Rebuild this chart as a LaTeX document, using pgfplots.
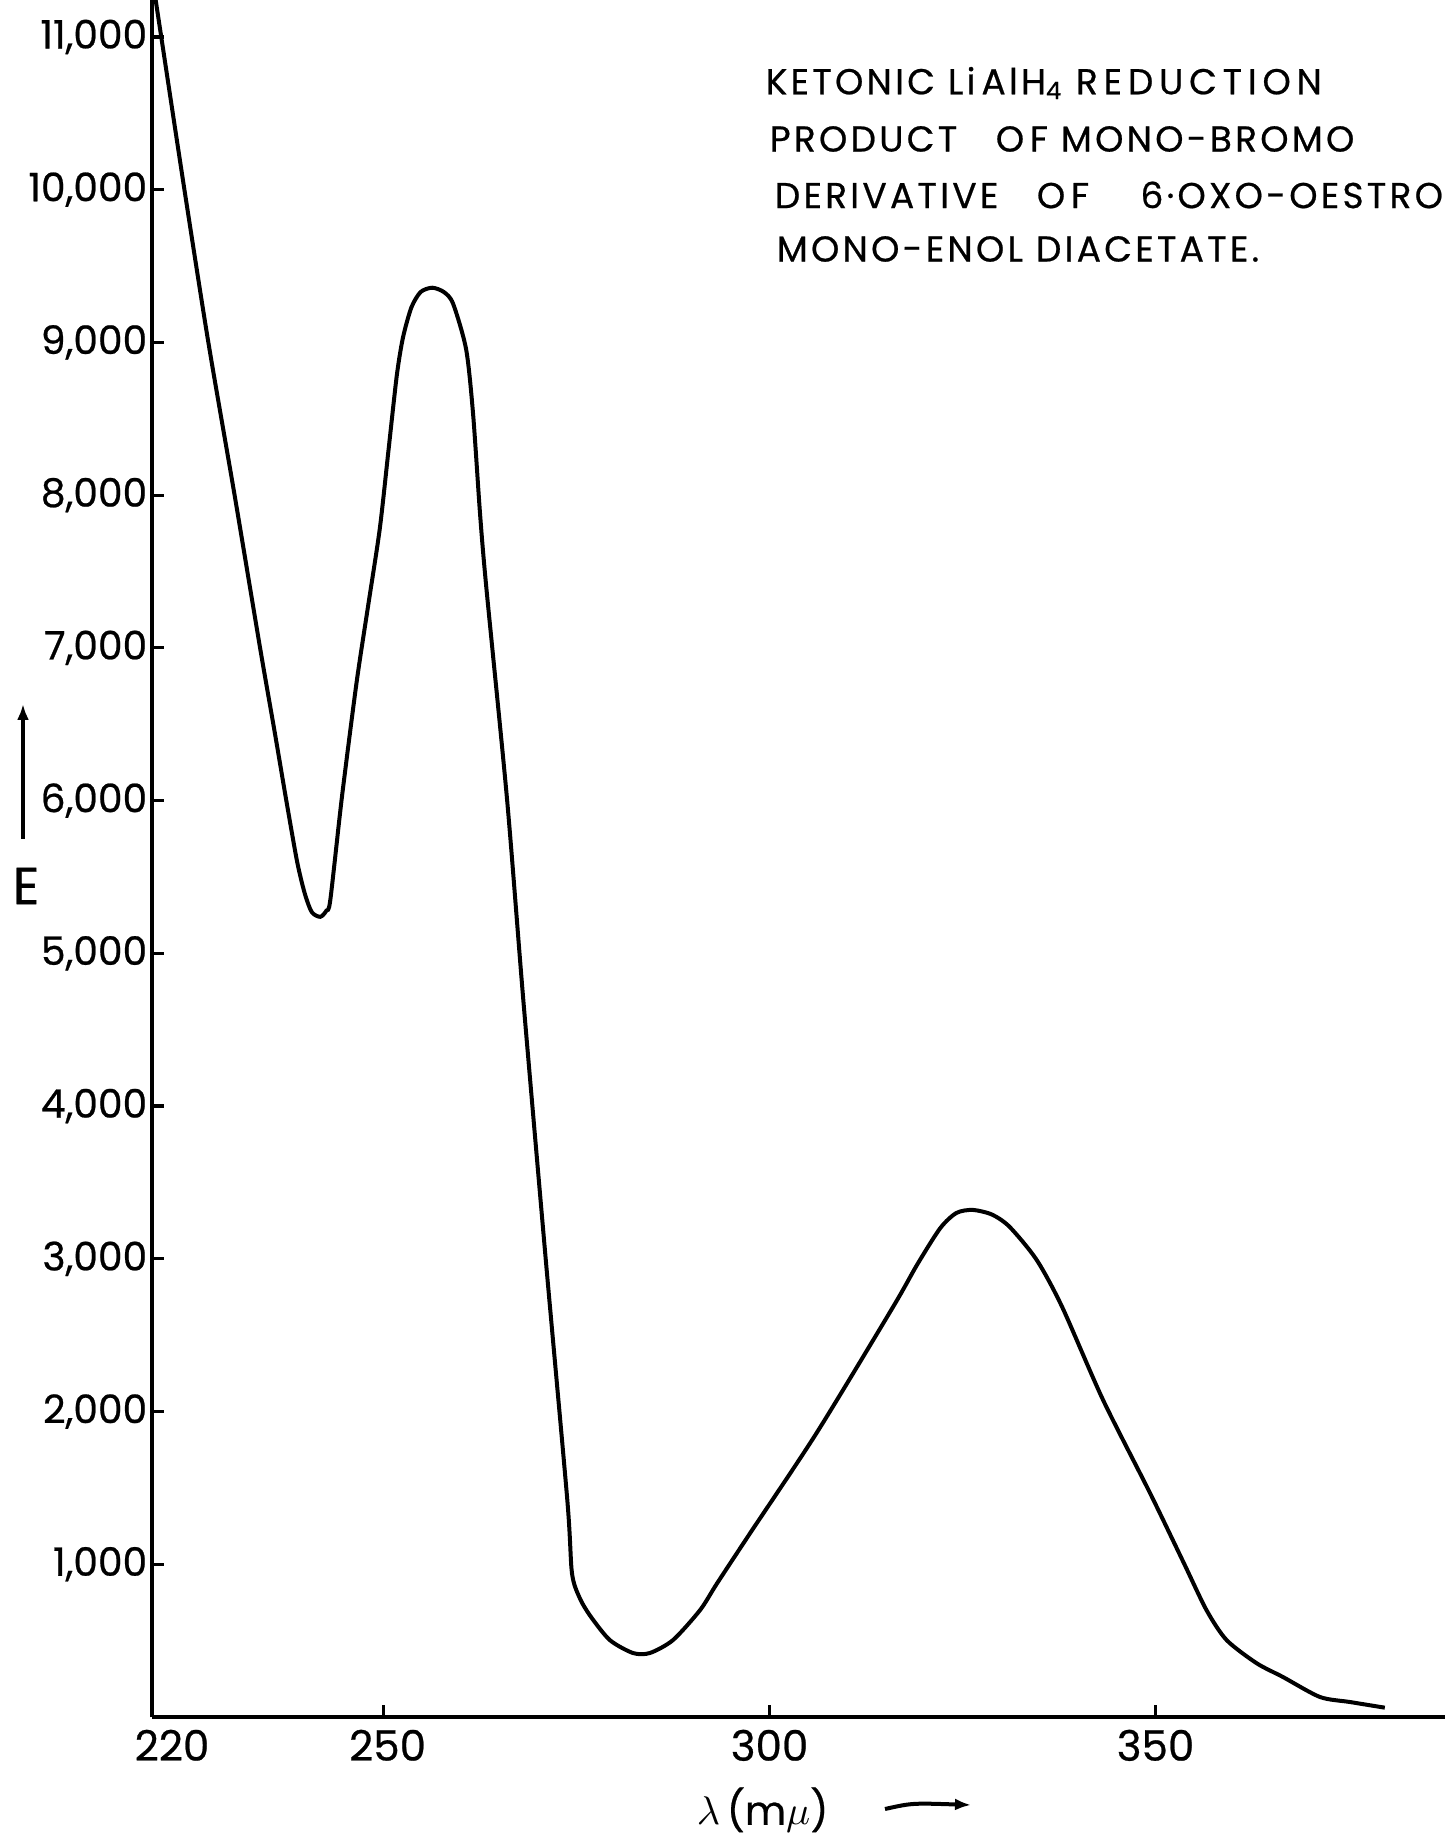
\documentclass[border=0pt]{standalone}
\usepackage{pgfplots}
\pgfplotsset{compat=1.18}
\usetikzlibrary{arrows.meta}
\usepackage{fontspec}
\setmainfont{Poppins}[FakeBold=0.6]
\newfontfamily\titlefont[LetterSpace=9.0,FakeBold=0.6]{Poppins}
\newfontfamily\titlefontw[LetterSpace=16.0,FakeBold=0.6]{Poppins}
\begin{document}
\begin{tikzpicture}[x=1pt,y=1pt]
\useasboundingbox (-38,-30.75) rectangle (323.25,429.25);
\begin{axis}[
  at={(0pt,0pt)}, anchor=south west,
  scale only axis, width=323.25pt, height=429.25pt,
  xmin=220, xmax=387.5, ymin=0, ymax=11242,
  axis x line=bottom, axis y line=left,
  axis line style={line width=1pt, -},
  x axis line style={line width=1.2pt},
  xtick={220,250,300,350},
  xticklabels={\hspace*{10pt}220,\hspace*{2pt}250,300,350},
  ytick={1000,2000,3000,4000,5000,6000,7000,8000,9000,10000,11000},
  scaled y ticks=false,
  tick align=inside, major tick length=3pt,
  tick style={line width=0.8pt, black},
  /pgf/number format/assume math mode=true,
  /pgf/number format/1000 sep={,},
  yticklabel style={font=\fontsize{9.8}{10}\selectfont, inner sep=1pt},
  xticklabel style={font=\fontsize{10.5}{11}\selectfont, inner sep=1pt, yshift=-2pt},
  clip=true,
]
\addplot[black, line width=1pt, smooth, tension=0.45] coordinates {
(220.3,11300) (221.2,11000) (224.2,10000) (227.3,9000) (230.7,8000)
(234.0,7000) (235.9,6447) (237.4,6000) (238.8,5600) (239.8,5390) (240.7,5270)
(241.8,5239) (242.6,5280) (243.1,5350) (244.6,6022) (246.5,6773)
(248.0,7276) (249.5,7777) (250.6,8277) (251.7,8779) (252.5,9029)
(253.6,9229) (254.8,9330) (256.3,9358) (257.8,9330) (259.0,9254)
(260.7,8953) (261.6,8528) (262.5,7875) (263.3,7400) (266.0,6005) (268.1,4695)
(271.0,3000) (273.8,1421) (274.4,943) (275.4,780) (276.8,660)
(279.3,504) (282.3,419) (284.5,419) (287.5,504) (291.0,700)
(293.2,875) (297.5,1205) (306.1,1860) (316.0,2685) (319.1,2960)
(322.1,3200) (324.2,3300) (326.3,3320) (328.8,3290) (331.1,3209)
(334.6,2993) (337.9,2685) (343.2,2076) (349.3,1465) (353.6,1015)
(356.6,700) (359.2,504) (363.1,352) (366.5,262) (371.3,131)
(375.2,98) (379.7,61)
};
\end{axis}
% title
\node[anchor=west, inner sep=0pt, font=\titlefont\fontsize{9}{10}\selectfont] at (153.25,408.5) {KETONIC\ Li\,AlH\textsubscript{4}\ {\titlefontw REDUCTION}};
\node[anchor=west, inner sep=0pt, font=\titlefont\fontsize{9}{10}\selectfont] at (154.25,394.5) {PRODUCT\ \ \ {\titlefontw OF}\ MONO-BROMO};
\node[anchor=west, inner sep=0pt, font=\titlefont\fontsize{9}{10}\selectfont] at (155.5,380.5) {DERIVATIVE\ \ \ {\titlefontw OF}\ \ \ \ 6·OXO-OESTRO};
\node[anchor=west, inner sep=0pt, font=\titlefont\fontsize{9}{10}\selectfont] at (156,367) {MONO-ENOL\ DIACETATE.};
% y label
\draw[line width=0.8pt, -{Latex[length=4pt,width=3pt]}] (-32.25,219.5) -- (-32.25,253.25);
\node[font=\fontsize{13}{14}\selectfont, inner sep=0pt] at (-31.5,207.75) {E};
% x label
\node[anchor=west, inner sep=0pt, font=\fontsize{10}{11}\selectfont] at (136,-23.25) {$\lambda$\,(m$\mu$)};
\draw[line width=1pt, -{Latex[length=4pt,width=3pt]}] (183.25,-23) .. controls (190,-21.5) .. (204.75,-22);
\end{tikzpicture}
\end{document}
